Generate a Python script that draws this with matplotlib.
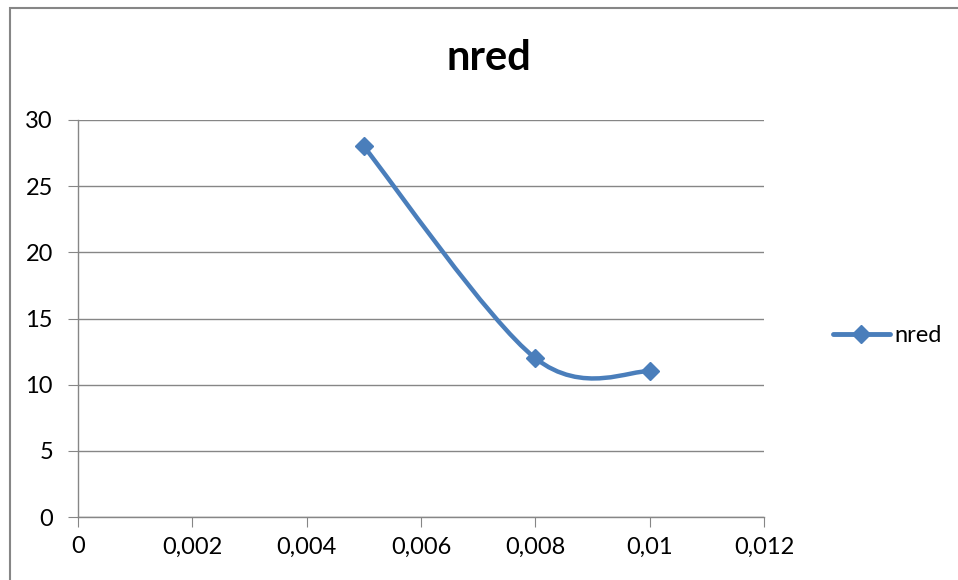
import matplotlib.pyplot as plt
from matplotlib.path import Path
from matplotlib.patches import PathPatch, Rectangle

plt.rcParams['font.family'] = ['Lato', 'DejaVu Sans']

x_vals = [0.005, 0.008, 0.01]
y_vals = [28, 12, 11]
series_name = 'nred'
x_ticks = [0, 0.002, 0.004, 0.006, 0.008, 0.01, 0.012]
x_labels = ['0', '0,002', '0,004', '0,006', '0,008', '0,01', '0,012']
y_ticks = [0, 5, 10, 15, 20, 25, 30]

blue = '#4a7ebb'
grey = '#868686'


def smooth_path(xs, ys):
    # excel-like smoothed line: catmull-rom -> cubic bezier
    pts = list(zip(xs, ys))
    n = len(pts)
    verts = [pts[0]]
    codes = [Path.MOVETO]
    for i in range(n - 1):
        p0 = pts[i - 1] if i > 0 else pts[i]
        p1 = pts[i]
        p2 = pts[i + 1]
        p3 = pts[i + 2] if i + 2 < n else pts[i + 1]
        c1 = (p1[0] + (p2[0] - p0[0]) / 6, p1[1] + (p2[1] - p0[1]) / 6)
        c2 = (p2[0] - (p3[0] - p1[0]) / 6, p2[1] - (p3[1] - p1[1]) / 6)
        verts += [c1, c2, p2]
        codes += [Path.CURVE4] * 3
    return Path(verts, codes)


fig = plt.figure(figsize=(9.58, 5.8), dpi=100)
fig.patches.append(Rectangle((10 / 958, -0.1), 1.2, 1 - 8 / 580 + 0.1,
                             transform=fig.transFigure, fill=False,
                             edgecolor=grey, linewidth=1.5))
ax = fig.add_axes([78 / 958, 1 - 517 / 580, (764 - 78) / 958, (517 - 120) / 580])

ax.add_patch(PathPatch(smooth_path(x_vals, y_vals), fill=False,
                       edgecolor=blue, linewidth=3.2, capstyle='round', zorder=3))
ax.plot(x_vals, y_vals, linestyle='none', marker='D', markersize=9,
        color=blue, zorder=4)

ax.set_xlim(0, 0.012)
ax.set_ylim(0, 30)
ax.set_xticks(x_ticks)
ax.set_xticklabels(x_labels)
ax.set_yticks(y_ticks)
ax.grid(axis='y', color=grey, linewidth=1)
ax.set_axisbelow(True)
for s in ['top', 'right']:
    ax.spines[s].set_visible(False)
for s in ['left', 'bottom']:
    ax.spines[s].set_color(grey)
    ax.spines[s].set_linewidth(1)
ax.tick_params(axis='both', direction='out', length=7, color=grey,
               labelsize=17, labelcolor='black')
ax.tick_params(axis='x', pad=7)
ax.tick_params(axis='y', pad=11)

fig.text(489 / 958, 1 - 58 / 580, 'nred', ha='center', va='center',
         fontsize=30, fontweight='bold')

leg_handle = plt.Line2D([], [], color=blue, linewidth=3.5, marker='D',
                        markersize=9, solid_capstyle='round')
fig.legend([leg_handle], [series_name], loc='center left',
           bbox_to_anchor=(833 / 958, 1 - 336 / 580), frameon=False,
           borderpad=0, borderaxespad=0, fontsize=17,
           handlelength=2.4, handletextpad=0.2)

fig.savefig('out.png', dpi=100)
